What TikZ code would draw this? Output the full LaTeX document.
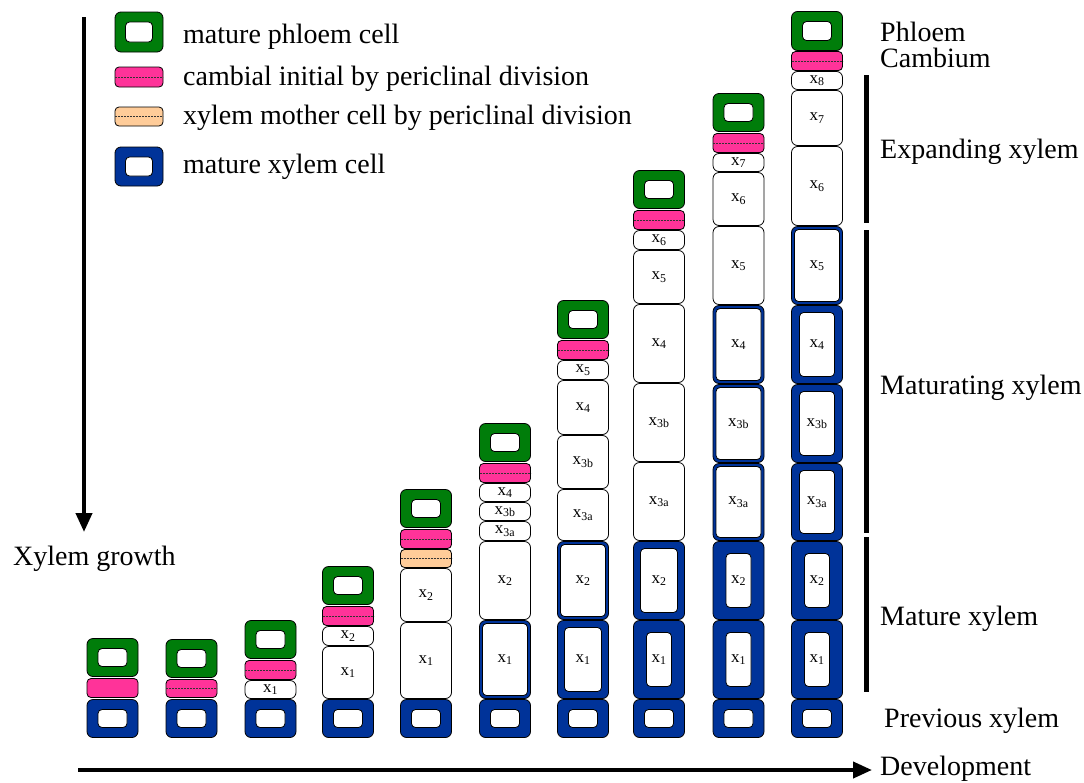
\documentclass[tikz,border=0pt]{standalone}
\usepackage{fontspec}
\setmainfont{Liberation Serif}
\usetikzlibrary{arrows.meta}
\definecolor{phgreen}{RGB}{0,125,10}
\definecolor{xyblue}{RGB}{0,51,153}
\definecolor{campink}{RGB}{255,51,153}
\definecolor{mothorange}{RGB}{255,204,153}
\tikzset{
 cellout/.style={draw=black, line width=0.8pt, rounded corners=6pt, inner sep=0pt, outer sep=0pt},
 cellin/.style={draw=black, line width=0.8pt, fill=white, rounded corners=4pt, inner sep=0pt, outer sep=0pt, font=\fontsize{17}{17}\selectfont},
 divline/.style={dash pattern=on 2pt off 1pt, line width=0.5pt, draw=black!80},
 bracket/.style={line width=5pt},
 bigtext/.style={font=\fontsize{28}{32}\selectfont, inner sep=0pt, anchor=base west},
 growarrow/.style={line width=4pt, -{Triangle[width=16pt,length=19pt]}},
}
\newcommand\xl[1]{x\textsubscript{#1}}
% name, cx, top, bottom, label
\newcommand\plaincell[5]{%
 \pgfmathsetmacro\cch{#4-#3-1}\pgfmathsetmacro\ccy{(#3+#4)/2}%
 \node[cellin, rounded corners=6pt, minimum width=51pt, minimum height=\cch pt] (#1) at (#2,\ccy) {#5};}
% name, cx, top, bottom, wx, wy, colour, label
\newcommand\wallcell[8]{%
 \pgfmathsetmacro\cch{#4-#3-1}\pgfmathsetmacro\ccy{(#3+#4)/2}%
 \pgfmathsetmacro\ciw{51-2*#5}\pgfmathsetmacro\cih{\cch-2*#6}%
 \node[cellout, fill=#7, minimum width=51pt, minimum height=\cch pt] (#1) at (#2,\ccy) {};
 \node[cellin, minimum width=\ciw pt, minimum height=\cih pt] (#1-in) at (#2,\ccy) {#8};}
% name, cx, top, bottom, colour, dashed
\newcommand\divcell[6]{%
 \pgfmathsetmacro\cch{#4-#3-1}\pgfmathsetmacro\ccy{(#3+#4)/2}%
 \node[cellout, rounded corners=4pt, fill=#5, minimum width=51pt, minimum height=\cch pt] (#1) at (#2,\ccy) {};
 \ifnum#6=1 \draw[divline] (#1.west) -- (#1.east);\fi}
\begin{document}
\begin{tikzpicture}[x=1pt,y=-1pt]
\useasboundingbox (0,0) rectangle (1084,782);
% legend
\node[cellout, fill=phgreen, minimum width=48pt, minimum height=40pt] (lg) at (139,32) {};
\node[cellin, minimum width=27pt, minimum height=20pt] (lg-in) at (139,32) {};
\node[cellout, rounded corners=4pt, fill=campink, minimum width=48pt, minimum height=20pt] (lp) at (139,77) {};
\draw[divline] (lp.west) -- (lp.east);
\node[cellout, rounded corners=4pt, fill=mothorange, minimum width=48pt, minimum height=19pt] (lo) at (139,116.5) {};
\draw[divline] (lo.west) -- (lo.east);
\node[cellout, fill=xyblue, minimum width=48pt, minimum height=39pt] (lb) at (139,166.5) {};
\node[cellin, minimum width=27pt, minimum height=19pt] (lb-in) at (139,166.5) {};
\node[bigtext] (t1) at (183,43) {mature phloem cell};
\node[bigtext] (t2) at (183,85) {cambial initial by periclinal division};
\node[bigtext] (t3) at (183,124) {xylem mother cell by periclinal division};
\node[bigtext] (t4) at (183,173) {mature xylem cell};
% previous xylem
\foreach \n/\c in {1/112.5,2/191.5,3/270.5,4/348,5/426,6/505,7/583,8/659,9/738.5,10/817}{
 \wallcell{p\n}{\c}{699}{738}{11}{10}{xyblue}{}
}
% column 1
\wallcell{g1}{112.5}{638}{677}{11}{10}{phgreen}{}
\divcell{k1}{112.5}{678}{698}{campink}{0}
% column 2
\wallcell{g2}{191.5}{639}{678}{11}{10}{phgreen}{}
\divcell{k2}{191.5}{679}{698}{campink}{1}
% column 3
\wallcell{g3}{270.5}{620}{659}{11}{10}{phgreen}{}
\divcell{k3}{270.5}{660}{680}{campink}{1}
\plaincell{c3x1}{270.5}{680}{699}{\xl{1}}
% column 4
\wallcell{g4}{348}{566}{605}{11}{10}{phgreen}{}
\divcell{k4}{348}{606}{626}{campink}{1}
\plaincell{c4x2}{348}{626}{646}{\xl{2}}
\plaincell{c4x1}{348}{646}{699}{\xl{1}}
% column 5
\wallcell{g5}{426}{489}{528}{11}{10}{phgreen}{}
\divcell{k5}{426}{529}{549}{campink}{1}
\divcell{o5}{426}{549}{568}{mothorange}{1}
\plaincell{c5x2}{426}{568}{622}{\xl{2}}
\plaincell{c5x1}{426}{622}{699}{\xl{1}}
% column 6
\wallcell{g6}{505}{423}{462}{11}{10}{phgreen}{}
\divcell{k6}{505}{463}{483}{campink}{1}
\plaincell{c6x4}{505}{483}{502}{\xl{4}}
\plaincell{c6x3b}{505}{502}{521}{\xl{3b}}
\plaincell{c6x3a}{505}{521}{541}{\xl{3a}}
\plaincell{c6x2}{505}{541}{620}{\xl{2}}
\wallcell{c6x1}{505}{620}{699}{3}{3}{xyblue}{\xl{1}}
% column 7
\wallcell{g7}{583}{300}{339}{11}{10}{phgreen}{}
\divcell{k7}{583}{340}{360}{campink}{1}
\plaincell{c7x5}{583}{360}{380}{\xl{5}}
\plaincell{c7x4}{583}{380}{435}{\xl{4}}
\plaincell{c7x3b}{583}{435}{489}{\xl{3b}}
\plaincell{c7x3a}{583}{489}{541}{\xl{3a}}
\wallcell{c7x2}{583}{541}{620}{3}{3}{xyblue}{\xl{2}}
\wallcell{c7x1}{583}{620}{699}{7}{7}{xyblue}{\xl{1}}
% column 8
\wallcell{g8}{659}{170}{209}{11}{10}{phgreen}{}
\divcell{k8}{659}{210}{230}{campink}{1}
\plaincell{c8x6}{659}{230}{250}{\xl{6}}
\plaincell{c8x5}{659}{250}{304}{\xl{5}}
\plaincell{c8x4}{659}{304}{383}{\xl{4}}
\plaincell{c8x3b}{659}{383}{462}{\xl{3b}}
\plaincell{c8x3a}{659}{462}{541}{\xl{3a}}
\wallcell{c8x2}{659}{541}{620}{7}{7}{xyblue}{\xl{2}}
\wallcell{c8x1}{659}{620}{699}{13}{12}{xyblue}{\xl{1}}
% column 9
\wallcell{g9}{738.5}{93}{132}{11}{10}{phgreen}{}
\divcell{k9}{738.5}{133}{153}{campink}{1}
\plaincell{c9x7}{738.5}{153}{172}{\xl{7}}
\plaincell{c9x6}{738.5}{172}{226}{\xl{6}}
\plaincell{c9x5}{738.5}{226}{305}{\xl{5}}
\wallcell{c9x4}{738.5}{305}{384}{3}{3}{xyblue}{\xl{4}}
\wallcell{c9x3b}{738.5}{384}{463}{3}{3}{xyblue}{\xl{3b}}
\wallcell{c9x3a}{738.5}{463}{541}{3}{3}{xyblue}{\xl{3a}}
\wallcell{c9x2}{738.5}{541}{620}{13}{12}{xyblue}{\xl{2}}
\wallcell{c9x1}{738.5}{620}{699}{13}{12}{xyblue}{\xl{1}}
% column 10
\wallcell{g10}{817}{11}{51}{11}{10}{phgreen}{}
\divcell{k10}{817}{51}{71}{campink}{1}
\plaincell{c10x8}{817}{71}{90}{\xl{8}}
\plaincell{c10x7}{817}{90}{146}{\xl{7}}
\plaincell{c10x6}{817}{146}{226}{\xl{6}}
\wallcell{c10x5}{817}{226}{305}{3}{3}{xyblue}{\xl{5}}
\wallcell{c10x4}{817}{305}{384}{8}{7}{xyblue}{\xl{4}}
\wallcell{c10x3b}{817}{384}{463}{8}{7}{xyblue}{\xl{3b}}
\wallcell{c10x3a}{817}{463}{541}{8}{7}{xyblue}{\xl{3a}}
\wallcell{c10x2}{817}{541}{620}{13}{12}{xyblue}{\xl{2}}
\wallcell{c10x1}{817}{620}{699}{13}{12}{xyblue}{\xl{1}}
% brackets
\coordinate (e1) at (866,75); \coordinate (e2) at (866,223);
\coordinate (m1) at (866,230); \coordinate (m2) at (866,533);
\coordinate (r1) at (866,537); \coordinate (r2) at (866,692);
\draw[bracket] (e1) -- (e2);
\draw[bracket] (m1) -- (m2);
\draw[bracket] (r1) -- (r2);
% right labels
\node[bigtext] (lph) at (880,41) {Phloem};
\node[bigtext] (lca) at (880,67) {Cambium};
\node[bigtext] (lex) at (880,158) {Expanding xylem};
\node[bigtext] (lmt) at (880,394) {Maturating xylem};
\node[bigtext] (lmx) at (880,625) {Mature xylem};
\node[bigtext] (lpx) at (884,727) {Previous xylem};
\node[bigtext] (ldv) at (880,775) {Development};
\node[bigtext] (lxg) at (13,565) {Xylem growth};
% arrows
\coordinate (vtop) at (84,17); \coordinate (vbot) at (84,532);
\coordinate (hl) at (78,770); \coordinate (hr) at (872,770);
\draw[growarrow] (vtop) -- (vbot);
\draw[growarrow] (hl) -- (hr);
\end{tikzpicture}
\end{document}
